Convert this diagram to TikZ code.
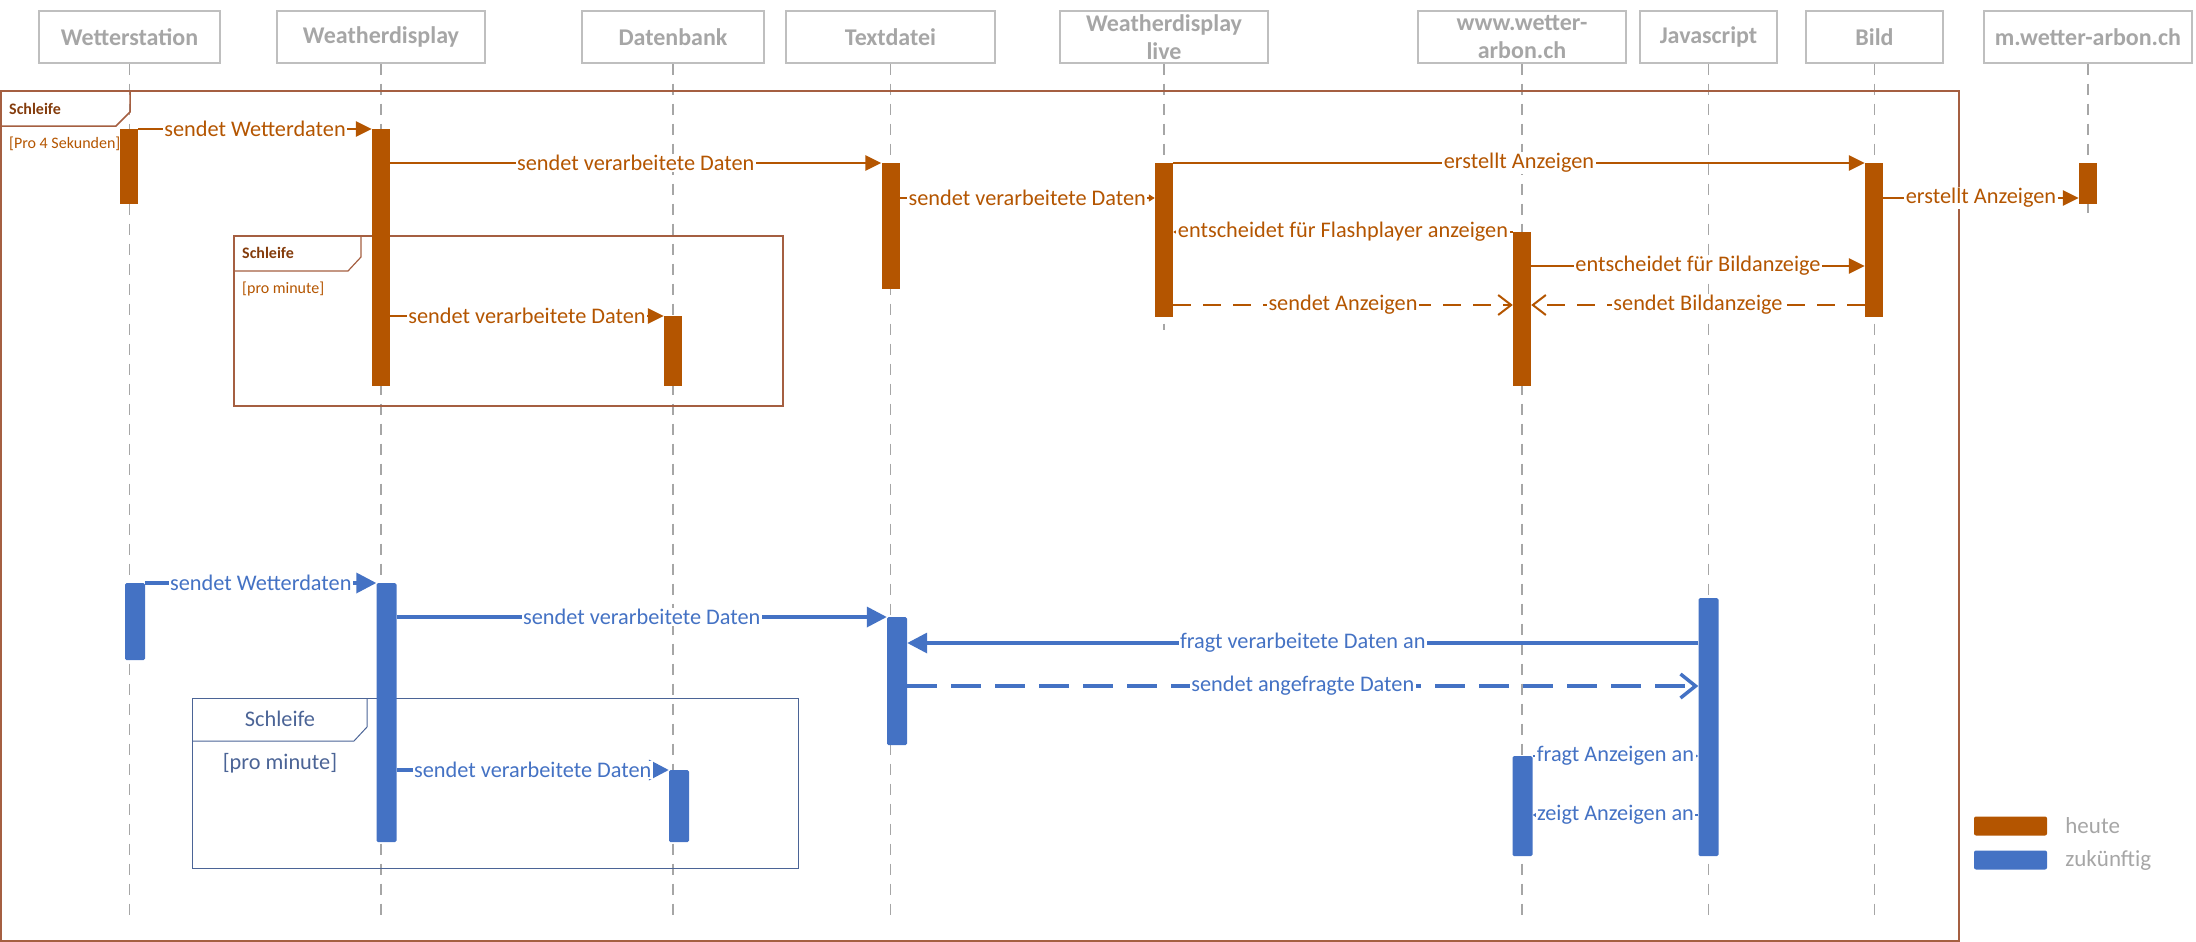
\documentclass[tikz,border=0pt]{standalone}
\usepackage{fontspec}
\setmainfont{Carlito}
\usepackage{tikz}
\usetikzlibrary{arrows.meta,positioning,backgrounds,calc}

\definecolor{heute}{RGB}{180,85,0}
\definecolor{zukunft}{RGB}{68,114,196}
\definecolor{frameO}{RGB}{165,95,65}
\definecolor{tabO}{RGB}{132,60,12}
\definecolor{frameB}{RGB}{75,100,150}

\tikzstyle{msgO}=[line width=2.5pt, draw=heute, -{Triangle[length=16pt,width=15pt]}]
\tikzstyle{msgOs}=[line width=2.5pt, draw=heute, -{Triangle[length=6pt,width=7pt]}]
\tikzstyle{retO}=[line width=2pt, draw=heute, dash pattern=on 18pt off 12pt, -{Straight Barb[length=13pt,width=20pt]}]
\tikzstyle{msgB}=[line width=3.5pt, draw=zukunft, -{Triangle[length=20pt,width=20pt]}]
\tikzstyle{msgBs}=[line width=2.5pt, draw=zukunft, -{Triangle[length=5pt,width=6pt]}]
\tikzstyle{retB}=[line width=3.5pt, draw=zukunft, dash pattern=on 30pt off 14pt, -{Straight Barb[length=15pt,width=24pt]}]

\tikzset{
    lifehead/.style={draw=gray!50, line width=1.2pt, text=gray!70, minimum width=208pt,
        minimum height=52pt, inner sep=0pt, align=center,
        font=\fontsize{24}{28}\selectfont\bfseries},
    lifeline/.style={draw=gray!70, line width=1.5pt, dash pattern=on 11pt off 9pt},
    barO/.style={fill=heute, minimum width=18pt, inner sep=0pt, anchor=north},
    barB/.style={fill=zukunft, minimum width=20pt, inner sep=0pt, anchor=north, rounded corners=1.5pt},
    lblO/.style={fill=white, inner sep=1.5pt, text=heute, font=\fontsize{22.3}{24}\selectfont},
    lblB/.style={fill=white, inner sep=1.5pt, text=zukunft, font=\fontsize{22.3}{24}\selectfont},
    loopO/.style={draw=frameO, line width=1.5pt},
    loopB/.style={draw=frameB, line width=1pt},
    legbox/.style={minimum width=73pt, minimum height=19pt, inner sep=0pt, rounded corners=2pt},
    legtxt/.style={text=gray!70, inner sep=2pt, font=\fontsize{23}{26}\selectfont}
}

\begin{document}
\begin{tikzpicture}[x=1pt, y=-1pt]
  \useasboundingbox (0,0) rectangle (2196,942);

  % lifeline heads
  \node (ws)[lifehead, minimum width=181pt] at (129.5,37) {Wetterstation};
  \node (wd)[lifehead] at (381,37) {Weatherdisplay};
  \node (db)[lifehead, minimum width=182pt] at (673,37) {Datenbank};
  \node (td)[lifehead, minimum width=209pt] at (890.5,37) {Textdatei};
  \node (wdl)[lifehead] at (1164,37) {Weatherdisplay\\live};
  \node (ww)[lifehead] at (1522,37) {www.wetter-\\arbon.ch};
  \node (js)[lifehead, minimum width=137pt] at (1708.5,37) {Javascript};
  \node (bi)[lifehead, minimum width=137pt] at (1874.5,37) {Bild};
  \node (mw)[lifehead] at (2088,37) {m.wetter-arbon.ch};

  \coordinate (bot) at (0,917);
  \coordinate (wdlEnd) at (0,330);
  \coordinate (mwEnd) at (0,213);

  % heute
  \node (wsA)[barO, minimum height=75pt] at (129,129) {};
  \node (wdA)[barO, minimum height=257pt] at (381,129) {};
  \node (dbA)[barO, minimum height=70pt] at (673,316) {};
  \node (tdA)[barO, minimum height=126pt] at (890.5,163) {};
  \node (wdlA)[barO, minimum height=154pt] at (1164,163) {};
  \node (wwA)[barO, minimum height=154pt] at (1522,232) {};
  \node (biA)[barO, minimum height=154pt] at (1874,163) {};
  \node (mwA)[barO, minimum height=41pt] at (2088,163) {};

  % zukuenftig
  \node (wsB)[barB, minimum height=77pt] at (135,583) {};
  \node (wdB)[barB, minimum height=259pt] at (386.5,583) {};
  \node (dbB)[barB, minimum height=72pt] at (679,770) {};
  \node (tdB)[barB, minimum height=128pt] at (897,617) {};
  \node (wwB)[barB, minimum height=100pt] at (1522.5,756) {};
  \node (jsB)[barB, minimum height=258pt] at (1708.5,598) {};

  \coordinate (r4) at (0,198);
  \coordinate (r8) at (0,266);
  \coordinate (r9) at (0,305);
  \coordinate (r12) at (0,643);
  \coordinate (r13) at (0,686);
  \coordinate (r15) at (0,815);

  \begin{pgfonlayer}{background}
    \foreach \n in {ws,wd,db,td,ww,js,bi}
      \draw[lifeline] (\n.south) -- (\n |- bot);
    \draw[lifeline] (wdl.south) -- (wdl |- wdlEnd);
    \draw[lifeline] (mw.south) -- (mw |- mwEnd);

    % Schleife (outer)
    \draw[loopO] (1,91) rectangle (1959,941);
    \draw[loopO] (1,126) -- (116,126) -- (130,112) -- (130,91);
    \node (tabA)[anchor=west, inner sep=0pt, text=tabO, font=\fontsize{16}{18}\selectfont\bfseries] at (9,109) {Schleife};
    \node (grdA)[anchor=west, inner sep=0pt, text=heute, font=\fontsize{16}{18}\selectfont] at (9,144) {[Pro 4 Sekunden]};

    % Schleife (inner, heute)
    \draw[loopO, line width=1.2pt] (234,236) rectangle (783,406);
    \draw[loopO, line width=1.2pt] (234,271) -- (348,271) -- (361,257) -- (361,236);
    \node (tabB)[anchor=west, inner sep=0pt, text=tabO, font=\fontsize{16}{18}\selectfont\bfseries] at (242,253) {Schleife};
    \node (grdB)[anchor=west, inner sep=0pt, text=heute, font=\fontsize{16}{18}\selectfont] at (242,289) {[pro minute]};

    % Schleife (zukuenftig)
    \draw[loopB] (192,698) rectangle (798,868);
    \draw[loopB] (192,741) -- (354,741) -- (367,727) -- (367,698);
    \node (tabC)[text=frameB, font=\fontsize{22.3}{24}\selectfont] at (280,719) {Schleife};
    \node (grdC)[text=frameB, font=\fontsize{22.3}{24}\selectfont] at (280,763) {[pro minute]};
  \end{pgfonlayer}

  % heute
  \draw[msgO] (wsA.north east) -- node[lblO] {sendet Wetterdaten} (wdA.north west);
  \draw[msgO] (wdA.east |- tdA.north) -- node[lblO] {sendet verarbeitete Daten} (tdA.north west);
  \draw[msgO] (wdA.east |- dbA.north) -- node[lblO] {sendet verarbeitete Daten} (dbA.north west);
  \draw[msgOs] (tdA.east |- r4) -- node[lblO] {sendet verarbeitete Daten} (wdlA.west |- r4);
  \draw[msgO] (wdlA.north east) -- node[lblO] {erstellt Anzeigen} (biA.north west);
  \draw[msgO] (biA.east |- r4) -- node[lblO] {erstellt Anzeigen} (mwA.west |- r4);
  \draw[msgOs] (wwA.north west) -- node[lblO] {entscheidet für Flashplayer anzeigen} (wdlA.east |- wwA.north);
  \draw[msgO] (wwA.east |- r8) -- node[lblO] {entscheidet für Bildanzeige} (biA.west |- r8);
  \draw[retO] (wdlA.east |- r9) -- node[lblO] {sendet Anzeigen} (wwA.west |- r9);
  \draw[retO] (biA.west |- r9) -- node[lblO] {sendet Bildanzeige} (wwA.east |- r9);

  % zukuenftig
  \draw[msgB] (wsB.north east) -- node[lblB] {sendet Wetterdaten} (wdB.north west);
  \draw[msgB] (wdB.east |- tdB.north) -- node[lblB] {sendet verarbeitete Daten} (tdB.north west);
  \draw[msgB] (wdB.east |- dbB.north) -- node[lblB] {sendet verarbeitete Daten} (dbB.north west);
  \draw[msgB] (jsB.west |- r12) -- node[lblB] {fragt verarbeitete Daten an} (tdB.east |- r12);
  \draw[retB] (tdB.east |- r13) -- node[lblB] {sendet angefragte Daten} (jsB.west |- r13);
  \draw[msgBs] (wwB.north east) -- node[lblB] {fragt Anzeigen an} (jsB.west |- wwB.north);
  \draw[msgBs] (jsB.west |- r15) -- node[lblB] {zeigt Anzeigen an} (wwB.east |- r15);

  % legend
  \node (legO)[legbox, fill=heute] at (2010.5,826) {};
  \node (legOt)[legtxt, anchor=west, right=16pt of legO] {heute};
  \node (legB)[legbox, fill=zukunft] at (2010.5,860) {};
  \node (legBt)[legtxt, anchor=west, right=16pt of legB] {zukünftig};
\end{tikzpicture}
\end{document}
